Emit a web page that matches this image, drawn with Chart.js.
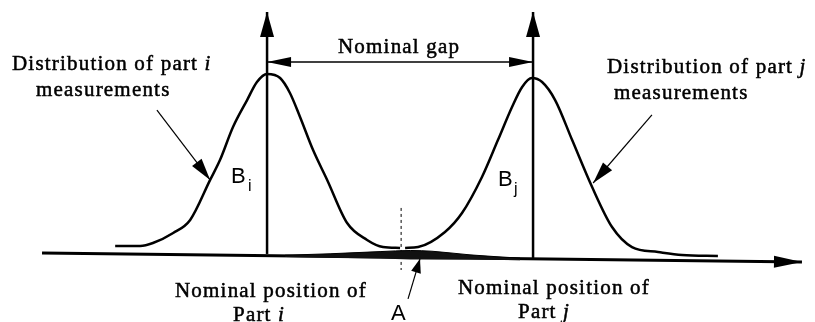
<!DOCTYPE html>
<html>
<head>
<meta charset="utf-8">
<script src="https://cdn.jsdelivr.net/npm/chart.js@4"></script>
<style>
  html, body { margin: 0; padding: 0; background: #fff; }
  #wrap { width: 815px; height: 322px; position: relative; }
</style>
</head>
<body>
<div id="wrap"><canvas id="gapChart"></canvas></div>
<script>
// x: position along the part axis (nominal gap = 10 units), y: relative frequency (peak = 1)
const partIX = [-5.71, -4.77, -4.29, -3.53, -2.89, -2.14, -1.77, -1.28, -0.75, -0.38, 0, 0.49, 0.86, 1.24, 1.73, 2.26, 3.01, 3.76, 4.36, 5.00];
const partIY = [0.055, 0.055, 0.071, 0.126, 0.198, 0.418, 0.527, 0.709, 0.857, 0.956, 1.0, 0.978, 0.896, 0.764, 0.582, 0.418, 0.181, 0.088, 0.049, 0.044];

const partJX = [5.19, 5.68, 6.69, 7.33, 8.08, 8.68, 9.21, 9.59, 9.96, 10.34, 10.83, 11.47, 12.22, 12.97, 13.72, 14.70, 15.60, 16.95];
const partJY = [0.044, 0.049, 0.132, 0.236, 0.434, 0.637, 0.819, 0.929, 0.978, 0.956, 0.857, 0.637, 0.379, 0.159, 0.049, 0.022, 0.005, 0.0];

// overlap band (region A) sitting on the axis
const overlapX = [0.68, 2.37, 4.25, 5.40, 6.20, 7.63, 9.51];
const overlapTop = [0.004, 0.012, 0.024, 0.030, 0.026, 0.006, -0.012];
const overlapBottom = [-0.006, -0.010, -0.014, -0.020, -0.020, -0.020, -0.024];

// nominal positions of part i and part j
const nominalX = [0, 10];
const nominalTop = 1.341;
const gapY = 1.066;

// axis line (slightly tilted as in the scan)
const axisX = [-8.46, 20.11];
const axisY = [0.016, -0.033];

// leader arrows: [x tail, y tail, x tip, y tip]
const leaderI = [-4.14, 0.802, -2.14, 0.418];
const leaderJ = [14.47, 0.775, 12.26, 0.401];
const leaderA = [5.30, -0.236, 5.75, -0.016];
const markA = [5.04, 0.264, 5.04, -0.077];

const pts = (xs, ys) => xs.map((x, i) => ({ x: x, y: ys[i] }));
const seg = s => [{ x: s[0], y: s[1] }, { x: s[2], y: s[3] }];

function arrowHead(ctx, x0, y0, x1, y1, len, half) {
    const a = Math.atan2(y1 - y0, x1 - x0);
    ctx.save();
    ctx.translate(x1, y1);
    ctx.rotate(a);
    ctx.beginPath();
    ctx.moveTo(0, 0);
    ctx.lineTo(-len, -half);
    ctx.lineTo(-len, half);
    ctx.closePath();
    ctx.fillStyle = '#000';
    ctx.fill();
    ctx.restore();
}

const arrowPlugin = {
    id: 'arrows',
    afterDatasetsDraw(chart) {
        const ctx = chart.ctx;
        chart.data.datasets.forEach((ds, i) => {
            if (!ds.head) return;
            const p = chart.getDatasetMeta(i).data;
            const a = p[p.length - 2], b = p[p.length - 1];
            arrowHead(ctx, a.x, a.y, b.x, b.y, ds.head[0], ds.head[1]);
            if (ds.both) arrowHead(ctx, p[1].x, p[1].y, p[0].x, p[0].y, ds.head[0], ds.head[1]);
        });
    }
};

// mixed roman / italic serif text, with a thin stroke to mimic the heavy print
function rich(ctx, parts, x, y) {
    ctx.letterSpacing = '1.2px';
    ctx.lineWidth = 0.5;
    ctx.strokeStyle = '#000';
    parts.forEach(([t, it]) => {
        ctx.font = (it ? 'italic ' : '') + '21px "Liberation Serif", "Times New Roman", serif';
        ctx.fillText(t, x, y);
        ctx.strokeText(t, x, y);
        x += ctx.measureText(t).width;
    });
    ctx.letterSpacing = '0px';
}

const labelPlugin = {
    id: 'labels',
    afterDraw(chart) {
        const ctx = chart.ctx;
        ctx.save();
        ctx.fillStyle = '#000';
        ctx.textBaseline = 'alphabetic';
        ctx.textAlign = 'left';

        rich(ctx, [['Distribution of part ', false], ['i', true]], 12, 70);
        rich(ctx, [['measurements', false]], 36, 96);
        rich(ctx, [['Distribution of part ', false], ['j', true]], 607, 73);
        rich(ctx, [['measurements', false]], 614, 99);
        rich(ctx, [['Nominal gap', false]], 338, 53);

        rich(ctx, [['Nominal position of', false]], 175, 297);
        rich(ctx, [['Part ', false], ['i', true]], 233, 321);
        rich(ctx, [['Nominal position of', false]], 458, 294);
        rich(ctx, [['Part ', false], ['j', true]], 518, 318);

        ctx.font = '22px "Liberation Sans", Arial, sans-serif';
        ctx.fillText('B', 231, 183);
        ctx.fillText('B', 498, 186);
        ctx.fillText('A', 391, 320);
        ctx.font = '16px "Liberation Sans", Arial, sans-serif';
        ctx.fillText('i', 248, 191);
        ctx.fillText('j', 514, 194);
        ctx.restore();
    }
};

const black = '#000';
const line = (data, w, extra) => Object.assign({
    data: data, borderColor: black, borderWidth: w, pointRadius: 0, fill: false, tension: 0
}, extra || {});

new Chart(document.getElementById('gapChart'), {
    type: 'line',
    data: {
        datasets: [
            line(pts(overlapX, overlapTop), 1, { fill: '+1', backgroundColor: '#111', cubicInterpolationMode: 'monotone' }),
            line(pts(overlapX, overlapBottom), 0),
            line(pts(axisX, axisY), 3, { head: [28, 6] }),
            line(pts(partIX, partIY), 2.5, { cubicInterpolationMode: 'monotone' }),
            line(pts(partJX, partJY), 2.5, { cubicInterpolationMode: 'monotone' }),
            line([{ x: nominalX[0], y: 0.011 }, { x: nominalX[0], y: nominalTop }], 2.5, { head: [25, 7] }),
            line([{ x: nominalX[1], y: -0.011 }, { x: nominalX[1], y: nominalTop }], 2.5, { head: [25, 7] }),
            line([{ x: nominalX[0], y: gapY }, { x: nominalX[1], y: gapY }], 1.5, { head: [24, 5], both: true }),
            line(seg(markA), 1, { borderDash: [3, 3] }),
            line(seg(leaderI), 1.2, { head: [22, 6] }),
            line(seg(leaderJ), 1.2, { head: [22, 6] }),
            line(seg(leaderA), 1.2, { head: [14, 5] })
        ]
    },
    options: {
        responsive: true,
        maintainAspectRatio: false,
        animation: false,
        layout: { padding: 0 },
        scales: {
            x: { type: 'linear', display: false, min: -10.04, max: 20.60 },
            y: { type: 'linear', display: false, min: -0.363, max: 1.407 }
        },
        plugins: {
            legend: { display: false },
            tooltip: { enabled: false }
        }
    },
    plugins: [arrowPlugin, labelPlugin]
});
</script>
</body>
</html>
